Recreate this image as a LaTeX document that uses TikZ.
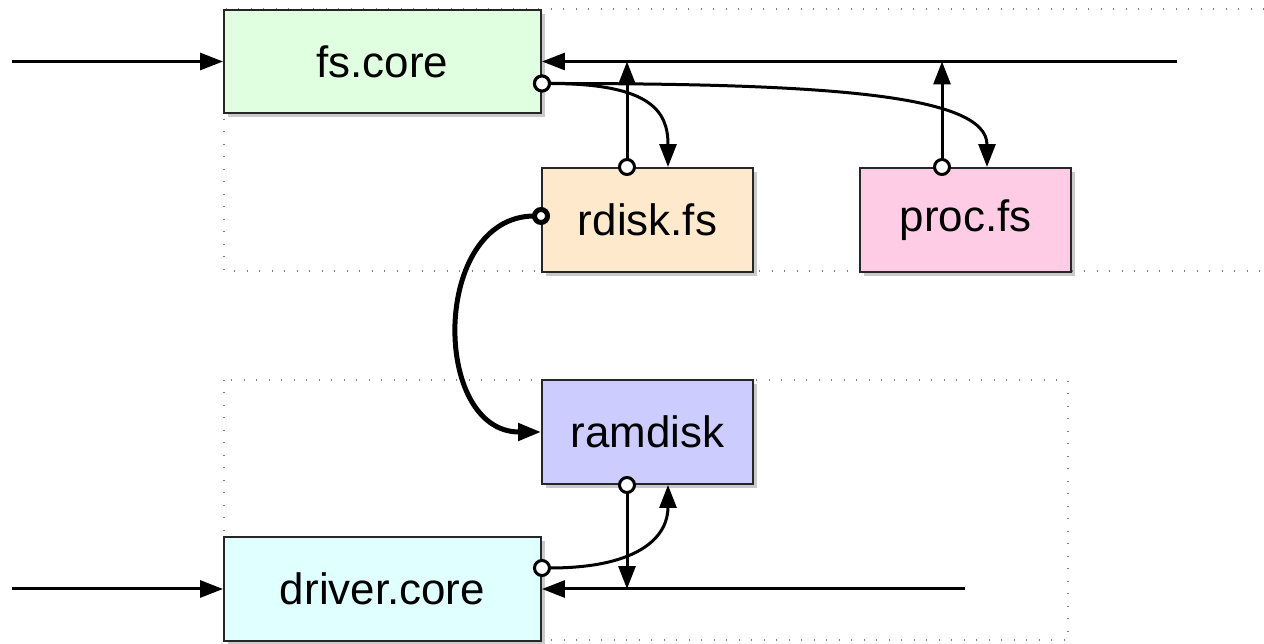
\documentclass[tikz,border=0pt]{standalone}
\usepackage{fontspec}
\setmainfont{Liberation Sans}
\usetikzlibrary{arrows.meta,shadows}

\definecolor{fscolor}{RGB}{224,255,224}
\definecolor{rdiskcolor}{RGB}{255,233,204}
\definecolor{proccolor}{RGB}{255,204,230}
\definecolor{ramcolor}{RGB}{204,204,255}
\definecolor{drivercolor}{RGB}{224,255,255}

\begin{document}
\begin{tikzpicture}[x=0.02cm, y=-0.02cm,
  module/.style={draw=black!85, line width=0.04cm, minimum width=4.22cm, minimum height=2.08cm,
    inner sep=0pt, font=\fontsize{25}{30}\selectfont,
    drop shadow={shadow xshift=0.08cm, shadow yshift=-0.08cm, opacity=0.35, fill=black!60}},
  core/.style={module, minimum width=6.34cm},
  wire/.style={line width=0.06cm, -{Triangle[length=0.46cm,width=0.34cm]}},
  tap/.style={wire, {Circle[fill=white,length=0.36cm]}-{Triangle[length=0.46cm,width=0.34cm]}, shorten <=-0.18cm},
  region/.style={draw=gray, line width=0.03cm, dash pattern=on 0.02cm off 0.23cm}]
\useasboundingbox (0,0) rectangle (1264,644);

% dotted groups
\draw[region] (1264,9) -- (224,9) -- (224,271) -- (1264,271);
\draw[region] (224,380) rectangle (1068,640);

% modules
\node[core, fill=fscolor] (fscore) at (382.5,61.5) {fs.core};
\node[module, fill=rdiskcolor] (rdiskfs) at (647.5,220) {rdisk.fs};
\node[module, fill=proccolor] (procfs) at (965.5,220) {proc.fs};
\node[module, fill=ramcolor] (ramdisk) at (647.5,432) {ramdisk};
\node[core, fill=drivercolor] (drivercore) at (382.5,589) {driver.core};

\coordinate (fsin) at (12,61.5);
\coordinate (fsout) at (1177,61.5);
\coordinate (drvin) at (12,589);
\coordinate (drvout) at (965,589);

% fs side
\draw[wire] (fsin) -- (fscore);
\draw[wire] (fsout) -- (fscore);
\draw[tap] ([xshift=-0.41cm]rdiskfs.north) -- ([xshift=-0.41cm]rdiskfs.north |- fsout);
\draw[tap] ([xshift=-0.47cm]procfs.north) -- ([xshift=-0.47cm]procfs.north |- fsout);
\draw[tap] ([yshift=-0.44cm]fscore.east) .. controls +(110,0) and +(0,-55) .. ([xshift=0.41cm]rdiskfs.north);
\draw[tap] ([yshift=-0.44cm]fscore.east) .. controls +(280,0) and +(0,-73) .. ([xshift=0.43cm]procfs.north);

% rdisk to ramdisk
\draw[tap, line width=0.1cm] ([yshift=0.08cm]rdiskfs.west) .. controls +(-110,0) and +(-110,0) .. (ramdisk.west);

% driver side
\draw[tap] ([xshift=-0.41cm]ramdisk.south) -- ([xshift=-0.41cm]ramdisk.south |- drvout);
\draw[tap] ([yshift=0.42cm]drivercore.east) .. controls +(100,0) and +(0,50) .. ([xshift=0.41cm]ramdisk.south);
\draw[wire] (drvout) -- (drivercore);
\draw[wire] (drvin) -- (drivercore);
\end{tikzpicture}
\end{document}
